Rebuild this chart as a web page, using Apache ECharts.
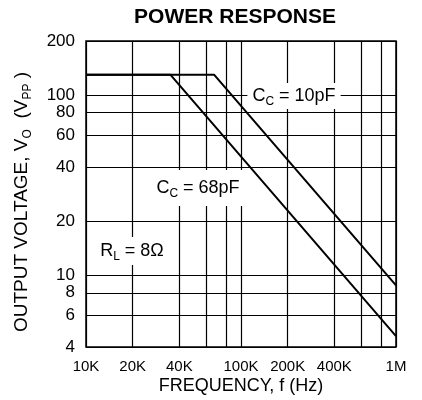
<!DOCTYPE html>
<html>
<head>
<meta charset="utf-8">
<script src="https://cdn.jsdelivr.net/npm/echarts@6/dist/echarts.min.js"></script>
<style>
html,body{margin:0;padding:0;background:#fff;}
#chart{width:422px;height:400px;}
</style>
</head>
<body>
<div id="chart"></div>
<script>
// ---- data ----
var freq68 = [10000, 35000, 1000000];
var volt68 = [130, 130, 4.6];
var freq10 = [10000, 67000, 1000000];
var volt10 = [130, 130, 8.8];

var xGridValues = [10000, 20000, 40000, 60000, 80000, 100000, 200000, 400000, 600000, 800000, 1000000];
var xTickValues = [10000, 20000, 40000, 100000, 200000, 400000, 1000000];
var xTickLabels = ['10K', '20K', '40K', '100K', '200K', '400K', '1M'];
var yGridValues = [4, 6, 8, 10, 20, 40, 60, 80, 100, 200];
var yTickLabels = ['4', '6', '8', '10', '20', '40', '60', '80', '100', '200'];

var FONT = 'Liberation Sans';

function zip(xs, ys) { return xs.map(function (x, i) { return [x, ys[i]]; }); }

var xMarks = xGridValues.map(function (v) {
  var idx = xTickValues.indexOf(v);
  return { xAxis: v, label: idx >= 0 ? { show: true, formatter: xTickLabels[idx] } : { show: false } };
});
var yMarks = yGridValues.map(function (v, i) {
  return { yAxis: v, label: { show: true, formatter: yTickLabels[i] } };
});

var chart = echarts.init(document.getElementById('chart'), null, { renderer: 'canvas' });

var mainRich = {
  m: { fontSize: 18, lineHeight: 24, fontFamily: FONT, color: '#000' },
  s: { fontSize: 12, lineHeight: 11, fontFamily: FONT, color: '#000', verticalAlign: 'bottom' }
};
var nameRich = {
  m: { fontSize: 19, lineHeight: 24, fontFamily: FONT, color: '#000' },
  s: { fontSize: 12, lineHeight: 12, fontFamily: FONT, color: '#000', verticalAlign: 'bottom' }
};

chart.setOption({
  animation: false,
  backgroundColor: '#fff',
  grid: { left: 86, top: 41, width: 310, height: 310, show: true, borderColor: '#000', borderWidth: 1.5, backgroundColor: 'transparent' },
  xAxis: {
    type: 'log', logBase: 10, min: 10000, max: 1000000,
    axisLine: { show: false }, axisTick: { show: false }, axisLabel: { show: false },
    splitLine: { show: false }, minorSplitLine: { show: false },
    name: 'FREQUENCY, f (Hz)', nameLocation: 'middle', nameGap: 30,
    nameTextStyle: { fontSize: 18, fontFamily: FONT, color: '#000' }
  },
  yAxis: {
    type: 'log', logBase: 10, min: 4, max: 200,
    axisLine: { show: false }, axisTick: { show: false }, axisLabel: { show: false },
    splitLine: { show: false }, minorSplitLine: { show: false }
  },
  graphic: {
    elements: [
      { type: 'text', x: 235, y: 17.5, z: 100,
        style: { text: 'POWER RESPONSE', fontSize: 21, fontWeight: 'bold', fontFamily: FONT, fill: '#000', align: 'center', verticalAlign: 'middle' } },
      { type: 'text', x: 22, y: 202, rotation: Math.PI / 2, z: 100,
        style: { text: '{m|OUTPUT VOLTAGE, V}{s|O}{m|  (V}{s|PP}{m| )}', rich: nameRich, align: 'center', verticalAlign: 'middle' } },
      { type: 'text', x: 294, y: 96, z: 100,
        style: { text: '{m|C}{s|C}{m| = 10pF}', rich: mainRich, align: 'center', verticalAlign: 'middle', backgroundColor: '#fff', padding: [1, 5] } },
      { type: 'text', x: 198, y: 188, z: 100,
        style: { text: '{m|C}{s|C}{m| = 68pF}', rich: mainRich, align: 'center', verticalAlign: 'middle', backgroundColor: '#fff', padding: [6, 6] } },
      { type: 'text', x: 132, y: 251, z: 100,
        style: { text: '{m|R}{s|L}{m| = 8Ω}', rich: mainRich, align: 'center', verticalAlign: 'middle', backgroundColor: '#fff', padding: [2, 6] } }
    ]
  },
  series: [
    {
      type: 'line', z: 1, silent: true, data: [[10000, 4]], showSymbol: false, symbol: 'none',
      lineStyle: { opacity: 0 },
      markLine: {
        z: 1, silent: true, symbol: 'none', animation: false,
        lineStyle: { color: '#000', width: 1.2, type: 'solid' },
        label: { position: 'start', distance: 12, fontSize: 15, fontFamily: FONT, color: '#000' },
        emphasis: { disabled: true },
        data: xMarks
      }
    },
    {
      type: 'line', z: 1, silent: true, data: [[10000, 4]], showSymbol: false, symbol: 'none',
      lineStyle: { opacity: 0 },
      markLine: {
        z: 1, silent: true, symbol: 'none', animation: false,
        lineStyle: { color: '#000', width: 1.2, type: 'solid' },
        label: { position: 'start', distance: 11, fontSize: 17, fontFamily: FONT, color: '#000' },
        emphasis: { disabled: true },
        data: yMarks
      }
    },
    {
      name: 'CC = 68pF', type: 'line', z: 3, data: zip(freq68, volt68), symbol: 'none',
      lineStyle: { color: '#000', width: 2 }
    },
    {
      name: 'CC = 10pF', type: 'line', z: 3, data: zip(freq10, volt10), symbol: 'none',
      lineStyle: { color: '#000', width: 2 }
    }
  ]
});
</script>
</body>
</html>
